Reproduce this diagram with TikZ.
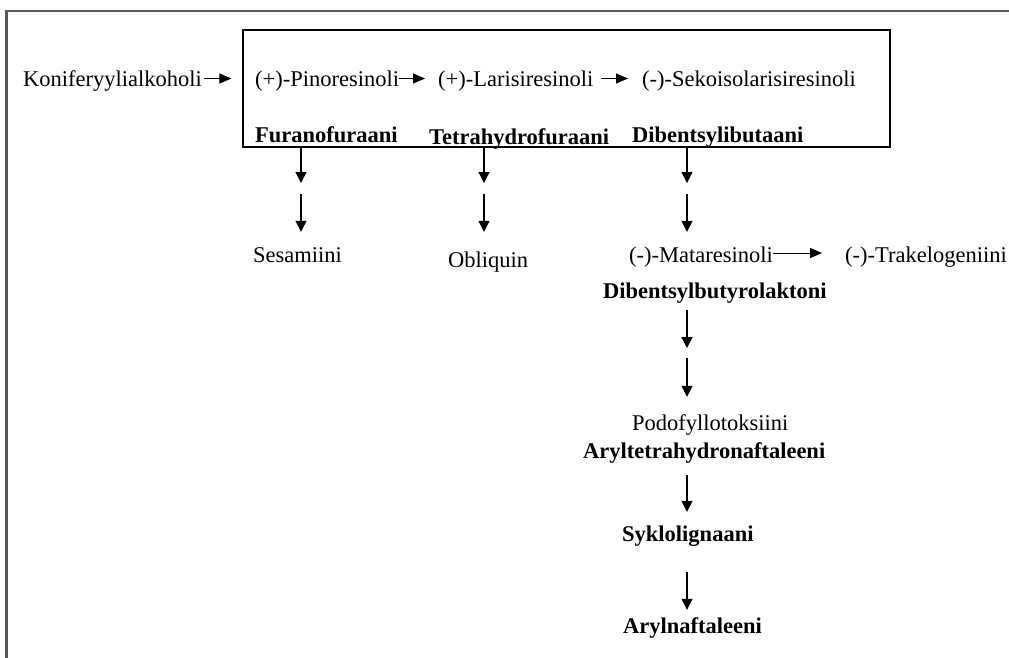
\documentclass[tikz,border=0pt]{standalone}
\usepackage{fontspec}
\setmainfont{Liberation Serif}
\usetikzlibrary{arrows.meta}
\begin{document}
\begin{tikzpicture}[x=1pt,y=-1pt,
  lbl/.style={anchor=base west, inner sep=0pt, text height=16pt, text depth=5pt, font=\fontsize{22.5}{27}\selectfont},
  blbl/.style={lbl, font=\fontsize{22.5}{27}\selectfont\bfseries},
  harr/.style={line width=1pt, -{Triangle[length=12pt,width=10pt]}},
  varr/.style={line width=1.2pt, -{Triangle[length=11pt,width=11pt]}},
  frameline/.style={draw=black!65, line width=2.2pt}]
\useasboundingbox (0,0) rectangle (1009,657);
\begin{scope}
\clip (0,0) rectangle (1009,657);
\draw[frameline] (1020,11) -- (6.5,11) -- (6.5,670);
\end{scope}
\node[draw, line width=1.2pt, minimum width=647pt, minimum height=117pt, inner sep=0pt] (box) at (566.5,88.5) {};
% texts
\node[lbl] (kon) at (23,86) {Koniferyylialkoholi};
\node[lbl] (pin) at (255,86) {(+)-Pinoresinoli};
\node[lbl] (lar) at (438,86) {(+)-Larisiresinoli};
\node[lbl] (sek) at (642,86) {(-)-Sekoisolarisiresinoli};
\node[blbl] (fur) at (255,142) {Furanofuraani};
\node[blbl] (tet) at (429,144) {Tetrahydrofuraani};
\node[blbl] (dib) at (632,142) {Dibentsylibutaani};
\node[lbl] (ses) at (253,262) {Sesamiini};
\node[lbl] (obl) at (448,267) {Obliquin};
\node[lbl] (mat) at (629,262) {(-)-Mataresinoli};
\node[lbl] (tra) at (845,262) {(-)-Trakelogeniini};
\node[blbl] (dbl) at (603,298) {Dibentsylbutyrolaktoni};
\node[lbl] (pod) at (632,430) {Podofyllotoksiini};
\node[blbl] (ary) at (583,458) {Aryltetrahydronaftaleeni};
\node[blbl] (syk) at (622,541) {Syklolignaani};
\node[blbl] (arn) at (623,633) {Arylnaftaleeni};
% horizontal arrows
\draw[harr, shorten <=2pt, shorten >=11pt] ([yshift=2pt]kon.east) -- ([yshift=2pt]kon.east -| box.west);
\draw[harr, shorten >=13pt] ([yshift=2pt]pin.east) -- ([yshift=2pt]lar.west);
\draw[harr, shorten <=7pt, shorten >=14pt] ([yshift=2pt]lar.east) -- ([yshift=2pt]sek.west);
\draw[harr, shorten >=23pt] ([yshift=3.5pt]mat.east) -- ([yshift=3.5pt]tra.west);
% vertical arrow points
\coordinate (c1t) at (301,183); \coordinate (c1s) at (301,194);
\coordinate (c2t) at (484,183); \coordinate (c2s) at (484,194);
\coordinate (c3t) at (687,183); \coordinate (c3s) at (687,194);
\coordinate (c3u) at (687,348); \coordinate (c3v) at (687,358);
% column 1
\draw[varr] (box.south -| c1t) -- (c1t);
\draw[varr, shorten >=14pt] (c1s) -- (c1s |- ses.north);
% column 2
\draw[varr] (box.south -| c2t) -- (c2t);
\draw[varr, shorten >=19pt] (c2s) -- (c2s |- obl.north);
% column 3
\draw[varr] (box.south -| c3t) -- (c3t);
\draw[varr, shorten >=14pt] (c3s) -- (c3s |- mat.north);
\draw[varr, shorten <=7pt] (dbl.south -| c3t) -- (c3u);
\draw[varr, shorten >=17pt] (c3v) -- (c3v |- pod.north);
\draw[varr, shorten <=12pt, shorten >=13pt] (ary.south -| c3t) -- (c3t |- syk.north);
\draw[varr, shorten <=26pt, shorten >=7pt] (syk.south -| c3t) -- (c3t |- arn.north);
\end{tikzpicture}
\end{document}
